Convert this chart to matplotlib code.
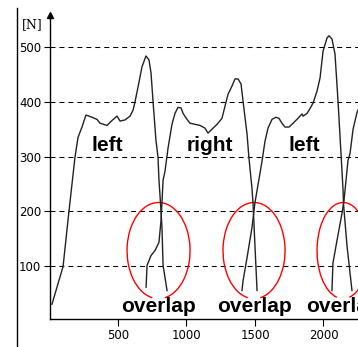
import numpy as np
import matplotlib
matplotlib.use("Agg")
import matplotlib.pyplot as plt
from matplotlib.patches import Arc
from matplotlib.lines import Line2D

# force curves [N] vs sample
left1_x = [18, 99, 142, 186, 208, 237, 266, 310, 347, 369, 420, 456, 493, 515, 551,
           588, 610, 624, 646, 675, 704, 726, 741, 756, 777, 792, 799, 810, 821, 829, 858]
left1_y = [30, 99, 200, 299, 335, 354, 376, 372, 368, 361, 357, 366, 374, 365, 367,
           374, 385, 400, 427, 464, 484, 477, 453, 400, 330, 299, 257, 216, 170, 101, 55]

right_x = [705, 712, 741, 770, 799, 814, 821, 829, 843, 865, 894, 916, 938, 960, 975,
           1004, 1026, 1062, 1099, 1135, 1157, 1186, 1223, 1259, 1281, 1303, 1332, 1354,
           1376, 1398, 1413, 1442, 1456, 1478, 1486, 1500, 1515]
right_y = [61, 101, 119, 128, 143, 183, 216, 257, 273, 315, 359, 379, 390, 389, 379,
           368, 361, 359, 357, 352, 343, 350, 359, 370, 392, 414, 429, 442,
           442, 433, 401, 341, 297, 242, 213, 136, 55]

left2_x = [1405, 1413, 1442, 1478, 1500, 1551, 1573, 1595, 1624, 1653, 1675, 1697, 1719,
           1748, 1778, 1814, 1843, 1851, 1880, 1902, 1924, 1953, 1975, 1997, 2026, 2040,
           2062, 2084, 2106, 2128, 2143, 2146, 2172, 2208]
left2_y = [55, 73, 115, 170, 216, 291, 328, 352, 368, 372, 370, 361, 354,
           354, 361, 370, 378, 374, 379, 388, 398, 420, 444, 493, 517, 521,
           515, 488, 402, 305, 238, 214, 136, 55]

right2_x = [2062, 2069, 2099, 2135, 2150, 2179, 2194, 2216, 2245, 2275]
right2_y = [55, 105, 147, 196, 220, 293, 306, 350, 381, 398]

# overlap regions: centre x, width
overlap_cx = [796, 1493, 2143]
overlap_w = [460, 453, 380]

step_labels = ["left", "right", "left"]
step_label_x = [420, 1172, 1858]

x_ticks = [500, 1000, 1500, 2000]
y_ticks = [100, 200, 300, 400, 500]

fig = plt.figure(figsize=(3.58, 3.47), dpi=100)
ax = fig.add_axes([0.1383, 0.0793, 0.8617, 0.8775])

line_kw = dict(color="#222222", lw=1.0)
for xs, ys in [(left1_x, left1_y), (right_x, right_y), (left2_x, left2_y), (right2_x, right2_y)]:
    ax.plot(xs, ys, **line_kw)

for cx, w in zip(overlap_cx, overlap_w):
    ax.add_patch(Arc((cx, 128), w, 176, theta1=-62, theta2=242, color="red", lw=1.0))

for lbl, x in zip(step_labels, step_label_x):
    ax.text(x, 310, lbl, ha="center", va="baseline", fontsize=15,
            fontweight="bold", family="Liberation Sans")

for cx in overlap_cx:
    ax.text(cx, 16, "overlap", ha="center", va="baseline", fontsize=15,
            fontweight="bold", family="Liberation Sans", clip_on=False)

ax.set_xlim(0, 2252)
ax.set_ylim(2, 559)
ax.set_xticks(x_ticks)
ax.set_yticks(y_ticks)
ax.tick_params(labelsize=8.5, length=4, width=0.8, pad=2)
ax.tick_params(axis="x", length=5)
for s in ["top", "right"]:
    ax.spines[s].set_visible(False)
for s in ["left", "bottom"]:
    ax.spines[s].set_linewidth(1.0)
ax.yaxis.grid(True, color="black", lw=0.75, linestyle=(0, (4.8, 3.8)))
ax.set_axisbelow(True)

# arrow head on the y axis and unit label
ax.plot([0], [1], marker="^", color="black", markersize=5,
        transform=ax.transAxes, clip_on=False)
fig.text(0.12, 0.928, "[N]", ha="right", va="center", fontsize=9, family="DejaVu Serif")

# left frame line of the original screenshot
fig.add_artist(Line2D([16.5 / 358, 16.5 / 358], [0, 1 - 8 / 347], color="black", lw=1.0))

fig.savefig("out.png", dpi=100)
